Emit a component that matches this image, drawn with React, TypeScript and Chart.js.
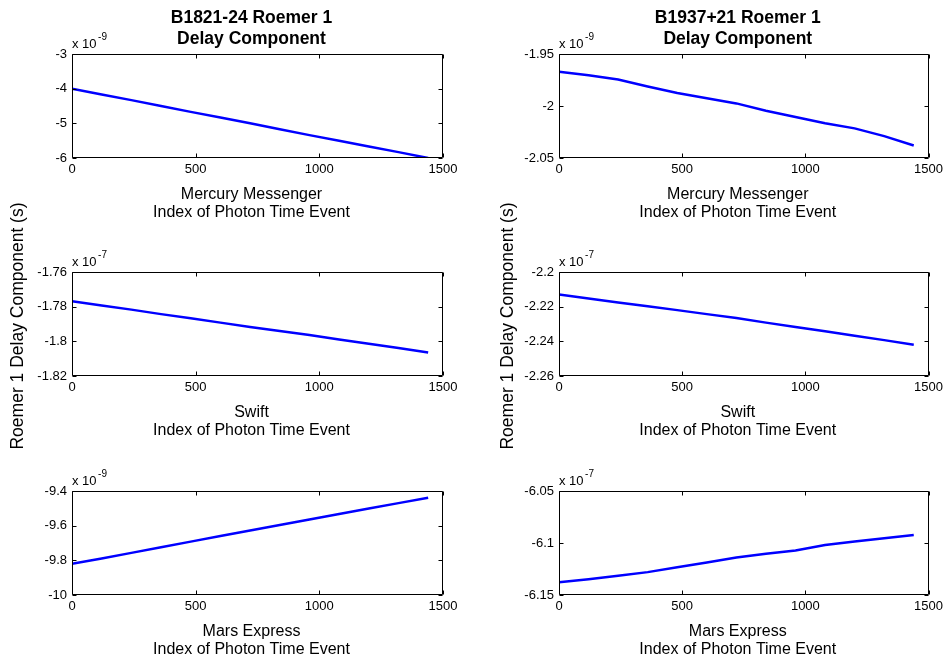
import React, { useEffect, useRef } from "react";
import { Chart, registerables } from "chart.js";

Chart.register(...registerables);

const PAGE_W = 947;
const PAGE_H = 660;
const FONT = "'Liberation Sans', Arial, Helvetica, sans-serif";

// Photon time event indices at which the delay was sampled
const EVENT_INDEX = [0, 120, 240, 360, 480, 600, 720, 840, 960, 1080, 1200, 1320, 1440];
const X_TICKS = [0, 500, 1000, 1500];

// Roemer 1 delay component, mantissas (the exponent is shown above each axes)
const B1821_MERCURY = [-4.0, -4.17, -4.33, -4.5, -4.67, -4.83, -5.0, -5.17, -5.34, -5.5, -5.67, -5.83, -6.0];
const B1937_MERCURY = [-1.967, -1.9705, -1.9745, -1.9812, -1.9875, -1.9925, -1.9975, -2.0045, -2.0105, -2.0165, -2.0215, -2.029, -2.038];
const B1821_SWIFT = [-1.7768, -1.7793, -1.7817, -1.7843, -1.7867, -1.7892, -1.7917, -1.7941, -1.7964, -1.799, -1.8014, -1.8039, -1.8064];
const B1937_SWIFT = [-2.213, -2.2153, -2.2176, -2.2198, -2.222, -2.2243, -2.2266, -2.2292, -2.2317, -2.2342, -2.2368, -2.2393, -2.242];
const B1821_MARS = [-9.82, -9.789, -9.757, -9.725, -9.692, -9.66, -9.628, -9.596, -9.564, -9.533, -9.501, -9.47, -9.439];
const B1937_MARS = [-6.1378, -6.1348, -6.1316, -6.128, -6.1233, -6.1187, -6.114, -6.1103, -6.1072, -6.102, -6.0985, -6.0955, -6.0923];

const Y_TICKS_B1821_MERCURY = [-6, -5, -4, -3];
const Y_TICKS_B1937_MERCURY = [-2.05, -2, -1.95];
const Y_TICKS_B1821_SWIFT = [-1.82, -1.8, -1.78, -1.76];
const Y_TICKS_B1937_SWIFT = [-2.26, -2.24, -2.22, -2.2];
const Y_TICKS_B1821_MARS = [-10, -9.8, -9.6, -9.4];
const Y_TICKS_B1937_MARS = [-6.15, -6.1, -6.05];

const PULSARS = ["B1821-24", "B1937+21"];
const MISSIONS = ["Mercury Messenger", "Swift", "Mars Express"];
const Y_LABEL = "Roemer 1 Delay Component (s)";
const X_LABEL = "Index of Photon Time Event";

// axes boxes in page pixels
const COLS = [
  { left: 72, right: 443 },
  { left: 559, right: 930 },
];
const ROWS = [
  { top: 54, bottom: 158 },
  { top: 272, bottom: 376 },
  { top: 491, bottom: 595 },
];

type Panel = {
  key: string;
  col: number;
  row: number;
  values: number[];
  yTicks: number[];
  exponent: number;
};

const PANELS: Panel[] = [
  { key: "a", col: 0, row: 0, values: B1821_MERCURY, yTicks: Y_TICKS_B1821_MERCURY, exponent: -9 },
  { key: "b", col: 1, row: 0, values: B1937_MERCURY, yTicks: Y_TICKS_B1937_MERCURY, exponent: -9 },
  { key: "c", col: 0, row: 1, values: B1821_SWIFT, yTicks: Y_TICKS_B1821_SWIFT, exponent: -7 },
  { key: "d", col: 1, row: 1, values: B1937_SWIFT, yTicks: Y_TICKS_B1937_SWIFT, exponent: -7 },
  { key: "e", col: 0, row: 2, values: B1821_MARS, yTicks: Y_TICKS_B1821_MARS, exponent: -9 },
  { key: "f", col: 1, row: 2, values: B1937_MARS, yTicks: Y_TICKS_B1937_MARS, exponent: -7 },
];

const Y_AXIS_W = 50;
const X_AXIS_H = 30;
const TICK_LEN = 4;

function formatTick(v: number): string {
  return String(Number(v.toFixed(4)));
}

// box around the axes with inward tick marks on all four sides
function boxPlugin() {
  return {
    id: "matlabBox",
    afterDatasetsDraw(chart: any) {
      const { ctx, chartArea: a, scales } = chart;
      const l = Math.round(a.left) + 0.5;
      const r = Math.round(a.right) - 0.5;
      const t = Math.round(a.top) + 0.5;
      const b = Math.round(a.bottom) - 0.5;
      ctx.save();
      ctx.strokeStyle = "#000";
      ctx.lineWidth = 1;
      ctx.beginPath();
      ctx.rect(l, t, r - l, b - t);
      scales.x.ticks.forEach((tk: any) => {
        const px = Math.round(scales.x.getPixelForValue(tk.value)) + 0.5;
        ctx.moveTo(px, b);
        ctx.lineTo(px, b - TICK_LEN);
        ctx.moveTo(px, t);
        ctx.lineTo(px, t + TICK_LEN);
      });
      scales.y.ticks.forEach((tk: any) => {
        const py = Math.round(scales.y.getPixelForValue(tk.value)) + 0.5;
        ctx.moveTo(l, py);
        ctx.lineTo(l + TICK_LEN, py);
        ctx.moveTo(r, py);
        ctx.lineTo(r - TICK_LEN, py);
      });
      ctx.stroke();
      ctx.restore();
    },
  };
}

// titles, axis labels and the exponent marker
function textPlugin(panel: Panel) {
  return {
    id: "panelText",
    afterDraw(chart: any) {
      const { ctx, chartArea: a } = chart;
      const cx = (a.left + a.right) / 2 - 6;
      ctx.save();
      ctx.fillStyle = "#000";
      ctx.textBaseline = "alphabetic";

      if (panel.row === 0) {
        ctx.font = `bold 17.5px ${FONT}`;
        ctx.textAlign = "center";
        ctx.fillText(`${PULSARS[panel.col]} Roemer 1`, cx, 23);
        ctx.fillText("Delay Component", cx, 44);
      }

      ctx.font = `16px ${FONT}`;
      ctx.textAlign = "center";
      ctx.fillText(MISSIONS[panel.row], cx, a.bottom + 41);
      ctx.fillText(X_LABEL, cx, a.bottom + 59);

      ctx.textAlign = "left";
      ctx.font = `13px ${FONT}`;
      const base = "x 10";
      ctx.fillText(base, a.left, a.top - 6);
      const w = ctx.measureText(base).width;
      ctx.font = `10px ${FONT}`;
      ctx.fillText(String(panel.exponent), a.left + w + 1.5, a.top - 14);

      if (panel.row === 1) {
        const lx = panel.col === 0 ? 18 : 508;
        ctx.translate(lx, 326);
        ctx.rotate(-Math.PI / 2);
        ctx.font = `17.5px ${FONT}`;
        ctx.textAlign = "center";
        ctx.textBaseline = "middle";
        ctx.fillText(Y_LABEL, 0, 0);
      }
      ctx.restore();
    },
  };
}

function PanelChart({ panel }: { panel: Panel }) {
  const ref = useRef<HTMLCanvasElement | null>(null);

  useEffect(() => {
    if (!ref.current) return;
    const col = COLS[panel.col];
    const row = ROWS[panel.row];
    const yMin = panel.yTicks[0];
    const yMax = panel.yTicks[panel.yTicks.length - 1];
    const points = EVENT_INDEX.map((x, i) => ({ x, y: panel.values[i] }));

    const chart = new Chart(ref.current, {
      type: "line",
      data: {
        datasets: [
          {
            data: points,
            borderColor: "#0000ff",
            borderWidth: 2.5,
            pointRadius: 0,
            tension: 0,
            fill: false,
          },
        ],
      },
      options: {
        responsive: false,
        animation: false,
        devicePixelRatio: 1,
        events: [],
        layout: {
          padding: {
            left: col.left - Y_AXIS_W,
            right: PAGE_W - col.right,
            top: row.top,
            bottom: PAGE_H - row.bottom - X_AXIS_H,
          },
        },
        plugins: {
          legend: { display: false },
          tooltip: { enabled: false },
        },
        scales: {
          x: {
            type: "linear",
            min: 0,
            max: 1500,
            border: { display: false },
            grid: { display: false, drawTicks: false },
            afterBuildTicks: (s: any) => {
              s.ticks = X_TICKS.map((value) => ({ value }));
            },
            afterFit: (s: any) => {
              s.height = X_AXIS_H;
            },
            ticks: {
              autoSkip: false,
              maxRotation: 0,
              padding: 4,
              color: "#000",
              font: { family: FONT, size: 13 },
              callback: (v: any) => String(v),
            },
          },
          y: {
            type: "linear",
            min: yMin,
            max: yMax,
            border: { display: false },
            grid: { display: false, drawTicks: false },
            afterBuildTicks: (s: any) => {
              s.ticks = panel.yTicks.map((value) => ({ value }));
            },
            afterFit: (s: any) => {
              s.width = Y_AXIS_W;
            },
            ticks: {
              autoSkip: false,
              padding: 5,
              color: "#000",
              font: { family: FONT, size: 13 },
              callback: (v: any) => formatTick(Number(v)),
            },
          },
        },
      },
      plugins: [boxPlugin(), textPlugin(panel)],
    } as any);

    return () => chart.destroy();
  }, [panel]);

  return (
    <canvas
      ref={ref}
      width={PAGE_W}
      height={PAGE_H}
      style={{ position: "absolute", left: 0, top: 0, width: PAGE_W, height: PAGE_H }}
    />
  );
}

export default function App() {
  return (
    <div
      style={{
        position: "fixed",
        left: 0,
        top: 0,
        width: PAGE_W,
        height: PAGE_H,
        background: "#ffffff",
        overflow: "hidden",
      }}
    >
      {PANELS.map((p) => (
        <PanelChart key={p.key} panel={p} />
      ))}
    </div>
  );
}
